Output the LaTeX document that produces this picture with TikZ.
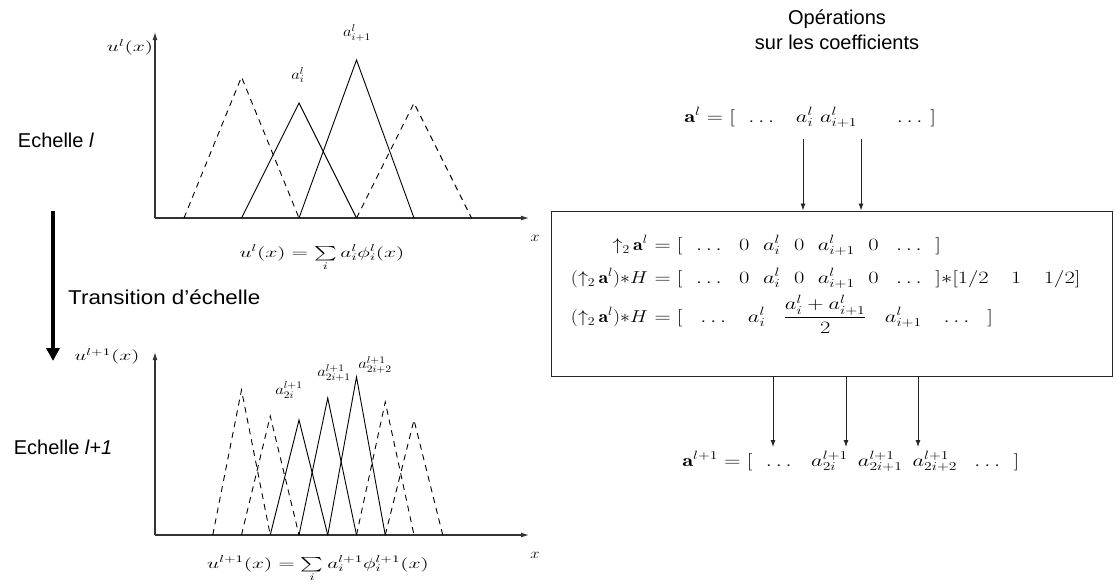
\documentclass[tikz,border=0pt]{standalone}
\usepackage{amsmath}
\usepackage{fontspec}
\newfontfamily\labelfont{Liberation Sans}
\usetikzlibrary{arrows.meta}
\newcommand{\cgap}[1]{\hspace{#1em}}
\newcommand{\upsmp}{\mathord{\uparrow}_2\,\mathbf{a}^l}

\tikzset{
  axis/.style={line width=1.2pt, draw=black!80, -{Latex[length=8pt,width=5pt]}},
  basis/.style={line width=0.9pt},
  coarse/.style={basis, dash pattern=on 6pt off 5pt},
  caption/.style={font=\labelfont\fontsize{20}{25}\selectfont, inner sep=0pt},
  plotfont/.style={font=\fontsize{14.4}{17}\selectfont, inner sep=0pt},
  plotmath/.style={plotfont, xscale=1.15},
  widemath/.style={plotfont, xscale=1.5},
  opsfont/.style={font=\fontsize{17.28}{21}\selectfont, inner sep=0pt},
  opsmath/.style={opsfont, xscale=1.3},
  opsleft/.style={opsfont, xscale=1.15, anchor=base east},
  flow/.style={line width=0.9pt, draw=black!85, -{Latex[length=7pt,width=5pt]}}
}

\begin{document}
\begin{tikzpicture}[x=1pt, y=-1pt]
  \useasboundingbox (0,0) rectangle (1114,587);

  % Echelle l
  \node[caption] (scaleA) at (56,140) {Echelle \textit{l}};
  \coordinate (oA) at (155,218);
  \coordinate (yA) at (155,32);
  \coordinate (xA) at (529,218);
  \draw[axis] (oA) -- (yA);
  \draw[axis] (oA) -- (xA);
  \foreach \c/\h/\s in {241.5/141/coarse, 299/115/basis, 356.5/158/basis, 414/115/coarse}
    \draw[\s] (\c-57.5,218) -- (\c,218-\h) -- (\c+57.5,218);
  \node[widemath] (uA) at (130,47) {$u^l(x)$};
  \node[plotmath] (xlabA) at (535,238) {$x$};
  \node[plotmath] (aiA) at (298,75) {$a_i^l$};
  \node[plotmath] (ajA) at (357,33) {$a_{i+1}^l$};
  \node[widemath, anchor=base] (sumA) at (322,257) {$u^l(x) = \sum\limits_i a_i^l \phi_i^l(x)$};

  % Transition d'echelle
  \coordinate (t0) at (53,211);
  \coordinate (t1) at (53,361);
  \draw[line width=4pt, -{Triangle[width=13pt,length=13pt]}] (t0) -- (t1);
  \node[caption, xscale=1.12, anchor=west] (trans) at (68,297) {Transition d’échelle};

  % Echelle l+1
  \node[caption] (scaleB) at (63,447) {Echelle \textit{l+1}};
  \coordinate (oB) at (155,535);
  \coordinate (yB) at (155,352);
  \coordinate (xB) at (529,535);
  \draw[axis] (oB) -- (yB);
  \draw[axis] (oB) -- (xB);
  \foreach \c/\h/\s in {241.5/145/coarse, 270.25/119/coarse, 299/115/basis, 327.75/137/basis,
                        356.5/158/basis, 385.25/133/coarse, 414/115/coarse}
    \draw[\s] (\c-28.75,535) -- (\c,535-\h) -- (\c+28.75,535);
  \node[widemath] (uB) at (107,356) {$u^{l+1}(x)$};
  \node[plotmath] (xlabB) at (535,555) {$x$};
  \node[plotmath] (aiB) at (289,390) {$a_{2i}^{l+1}$};
  \node[plotmath] (ajB) at (334,373) {$a_{2i+1}^{l+1}$};
  \node[plotmath] (akB) at (375,365) {$a_{2i+2}^{l+1}$};
  \node[widemath, anchor=base] (sumB) at (318,568) {$u^{l+1}(x) = \sum\limits_i a_i^{l+1} \phi_i^{l+1}(x)$};

  % Operations sur les coefficients
  \node[caption, align=center] (title) at (837,30) {Opérations\\sur les coefficients};
  \node[opsmath, anchor=base west] (coefA) at (684,122)
    {$\mathbf{a}^l = [\cgap{0.6}\ldots\cgap{0.8}a_i^l\cgap{0.3}a_{i+1}^l\cgap{1.6}\ldots\cgap{0.35}]$};

  \node[draw, line width=1pt, draw=black!85, minimum width=561pt, minimum height=165pt, inner sep=0pt] (ops) at (831.5,293.5) {};
  \node[opsleft] (upL) at (648,250) {$\upsmp$};
  \node[opsmath, anchor=base west] (upR) at (648,250)
    {${}= [\ \ \ldots\ \ 0\ \ a_i^l\ \ 0\ \ a_{i+1}^l\ \ 0\ \ \ldots\ \ ]$};
  \node[opsleft] (convL) at (648,283) {$(\upsmp){*}H$};
  \node[opsmath, anchor=base west] (convR) at (648,283)
    {${}= [\ \ \ldots\ \ 0\ \ a_i^l\ \ 0\ \ a_{i+1}^l\ \ 0\ \ \ldots\ \ ]{*}[1/2\cgap{1.0}1\cgap{1.0}1/2]$};
  \node[opsleft] (resL) at (648,322) {$(\upsmp){*}H$};
  \node[opsmath, anchor=base west] (resR) at (648,322)
    {${}= [\cgap{0.8}\ldots\cgap{0.8}a_i^l\cgap{0.8}\dfrac{a_i^l + a_{i+1}^l}{2}\cgap{0.8}a_{i+1}^l\cgap{0.8}\ldots\cgap{0.8}]$};

  \node[opsmath, anchor=base west] (coefB) at (682,466)
    {$\mathbf{a}^{l+1} = [\cgap{0.6}\ldots\cgap{0.7}a_{2i}^{l+1}\cgap{0.45}a_{2i+1}^{l+1}\cgap{0.45}a_{2i+2}^{l+1}\cgap{0.6}\ldots\cgap{0.6}]$};

  % fleches
  \coordinate (u1) at (803,139);
  \coordinate (u2) at (861,139);
  \draw[flow] (u1) -- (u1 |- ops.north);
  \draw[flow] (u2) -- (u2 |- ops.north);
  \foreach \n/\xx in {d1/773, d2/846, d3/918} {
    \coordinate (\n) at (\xx,447);
    \draw[flow] (\n |- ops.south) -- (\n);
  }
\end{tikzpicture}
\end{document}
